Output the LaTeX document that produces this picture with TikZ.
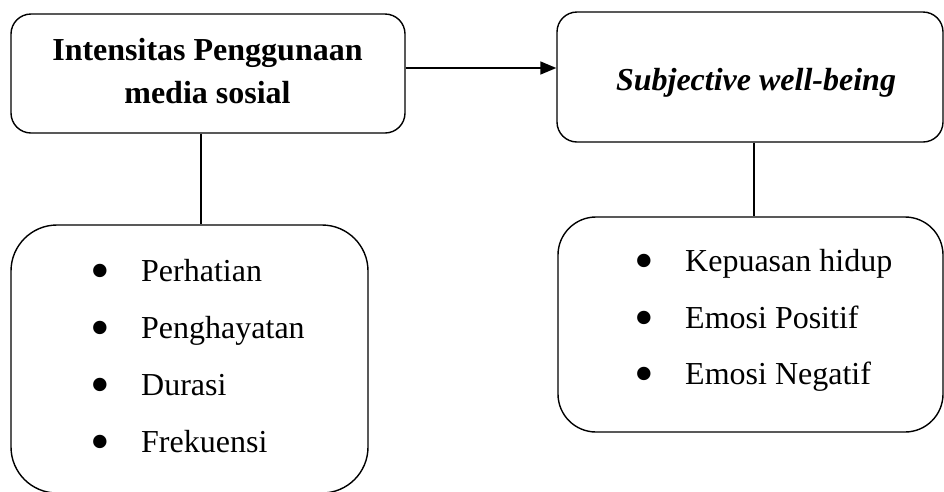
\documentclass[tikz,border=0pt]{standalone}
\usepackage{fontspec}
\setmainfont{Liberation Serif}
\usetikzlibrary{positioning, arrows.meta}
\tikzset{
    kotak/.style={draw, line width=1.4pt, rounded corners=20pt, inner sep=0pt},
    daftar/.style={draw, line width=1.4pt, rounded corners=46pt, inner sep=0pt},
    judul/.style={anchor=base, inner sep=0pt, font=\fontsize{32}{43}\selectfont\bfseries},
    butir/.style={anchor=base west, inner sep=0pt, font=\fontsize{32}{37}\selectfont},
    titik/.style={anchor=center, inner sep=0pt, font=\fontsize{56}{56}\selectfont},
    garis/.style={line width=1.6pt},
    panah/.style={line width=1.6pt, -{Triangle[length=16pt, width=13pt]}}
}

\begin{document}
\begin{tikzpicture}[x=1pt, y=-1pt]
    \useasboundingbox (0,0) rectangle (944,491);
    \clip (0,0) rectangle (944,491);
    % kotak variabel
    \node[kotak, minimum width=394pt, minimum height=119pt] (intensitas) at (208,73.5) {};
    \node[kotak, minimum width=386pt, minimum height=130pt] (swb) at (750,77) {};
    \node[judul] (judulA1) at (207.5,60) {Intensitas Penggunaan};
    \node[judul] (judulA2) at (207.5,103) {media sosial};
    \node[judul, font=\fontsize{32}{43}\selectfont\bfseries\itshape] (judulB) at (756,90) {Subjective well-being};
    % kotak indikator
    \node[daftar, minimum width=357pt, minimum height=268pt] (indikatorA) at (189.5,359) {};
    \node[daftar, rounded corners=38pt, minimum width=385pt, minimum height=215pt] (indikatorB) at (750.5,324.5) {};
    \foreach \teks/\y [count=\i] in {Perhatian/281, Penghayatan/338, Durasi/395, Frekuensi/452} {
        \node[titik] (titikA\i) at (100,\y-4.5) {•};
        \node[butir] (butirA\i) at (141,\y) {\teks};
    }
    \foreach \teks/\y [count=\i] in {Kepuasan hidup/271, Emosi Positif/328, Emosi Negatif/384} {
        \node[titik] (titikB\i) at (644,\y-4.5) {•};
        \node[butir] (butirB\i) at (685,\y) {\teks};
    }
    % penghubung
    \draw[panah] ([yshift=5.5pt]intensitas.east) -- ([yshift=5.5pt]intensitas.east -| swb.west);
    \draw[garis] ([xshift=-7pt]intensitas.south) -- ([xshift=-7pt]intensitas.south |- indikatorA.north);
    \draw[garis] ([xshift=4pt]swb.south) -- ([xshift=4pt]swb.south |- indikatorB.north);
\end{tikzpicture}
\end{document}
